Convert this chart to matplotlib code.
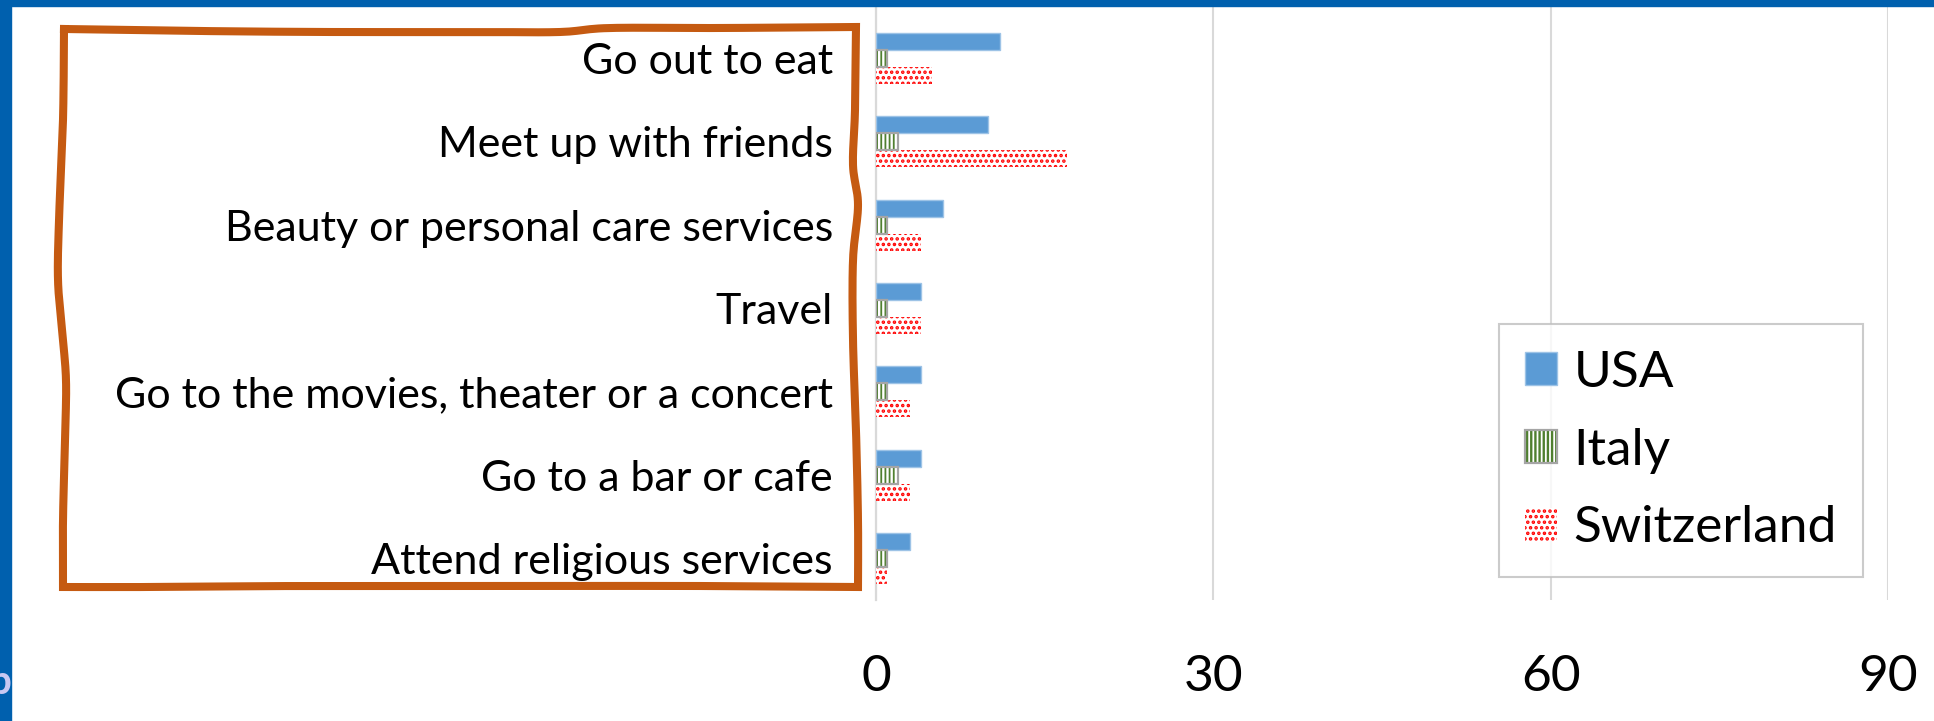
import matplotlib
matplotlib.use('Agg')
import matplotlib.pyplot as plt
import numpy as np
from matplotlib.patches import Patch, Rectangle
from matplotlib.lines import Line2D

# ---------------- data ----------------
categories = ["Go out to eat", "Meet up with friends", "Beauty or personal care services",
              "Travel", "Go to the movies, theater or a concert", "Go to a bar or cafe",
              "Attend religious services"]
usa = [11, 10, 6, 4, 4, 4, 3]
italy = [1, 2, 1, 1, 1, 2, 1]
switzerland = [5, 17, 4, 4, 3, 3, 1]
series_names = ["USA", "Italy", "Switzerland"]
x_ticks = [0, 30, 60, 90]

# ---------------- style ----------------
W, H = 1934, 721
plt.rcParams['font.family'] = ['Lato', 'DejaVu Sans']

C_USA = '#5b9bd5'
C_USA_EDGE = '#9dc3e6'
C_IT = '#4f7f2f'
C_IT_EDGE = '#a5a5a5'
C_CH = '#ff0000'
C_GRID = '#d9d9d9'
C_BLUE = '#0060ae'
C_ORANGE = '#c55a11'
IT_HATCH, IT_HLW = '||||', 1.3
CH_HATCH, CH_HLW = '...', 1.7


def set_hlw(patches, lw):
    for p in patches:
        try:
            p.set_hatch_linewidth(lw)
        except Exception:
            pass


fig = plt.figure(figsize=(W / 100, H / 100), dpi=100)


def fx(px):
    return np.asarray(px, dtype=float) / W


def fy(py):
    return 1 - np.asarray(py, dtype=float) / H


ax_left, ax_right, ax_top, ax_bot = 876, 1888, 6, 600
ax = fig.add_axes([fx(ax_left), fy(ax_bot), (ax_right - ax_left) / W, (ax_bot - ax_top) / H])

band = 83.3  # px per category
n = len(categories)
h = 17 / band
y = np.arange(n)

ax.barh(y - h, usa, height=h, color=C_USA, edgecolor=C_USA_EDGE, linewidth=1, zorder=3)
plt.rcParams['hatch.linewidth'] = IT_HLW
b_it = ax.barh(y, italy, height=h, color='white', edgecolor=C_IT, hatch=IT_HATCH,
               linewidth=0, zorder=3)
set_hlw(b_it, IT_HLW)
ax.barh(y, italy, height=h, fill=False, edgecolor=C_IT_EDGE, linewidth=1.6, zorder=4)
plt.rcParams['hatch.linewidth'] = CH_HLW
b_ch = ax.barh(y + h, switzerland, height=h, color='white', edgecolor=C_CH, hatch=CH_HATCH,
               linewidth=0, zorder=3)
set_hlw(b_ch, CH_HLW)

ax.set_xlim(0, 90)
ax.set_ylim(n - 0.5, n - 0.5 - (ax_bot - ax_top) / band)
ax.set_xticks(x_ticks)
ax.set_xticklabels([str(t) for t in x_ticks], fontsize=37, color='black')
ax.set_yticks(y)
ax.set_yticklabels(categories, fontsize=31, color='black')
ax.tick_params(axis='both', length=0)
ax.tick_params(axis='x', pad=39)
ax.tick_params(axis='y', pad=31)
ax.xaxis.grid(True, color=C_GRID, linewidth=1.5, zorder=0)
ax.set_axisbelow(True)
for s in ['top', 'right', 'bottom']:
    ax.spines[s].set_visible(False)
ax.spines['left'].set_color(C_GRID)
ax.spines['left'].set_linewidth(1.6)

# legend
h_usa = Patch(facecolor=C_USA, edgecolor=C_USA_EDGE, linewidth=1)
plt.rcParams['hatch.linewidth'] = IT_HLW
h_it_fill = Patch(facecolor='white', edgecolor=C_IT, hatch=IT_HATCH, linewidth=0)
set_hlw([h_it_fill], IT_HLW)
h_it = (h_it_fill, Patch(fill=False, edgecolor=C_IT_EDGE, linewidth=1.6))
plt.rcParams['hatch.linewidth'] = CH_HLW
h_ch = Patch(facecolor='white', edgecolor=C_CH, hatch=CH_HATCH, linewidth=0)
set_hlw([h_ch], CH_HLW)
leg_fs = 37
leg = fig.legend([h_usa, h_it, h_ch], series_names, loc='upper left',
                 bbox_to_anchor=(fx(1499), fy(324)), bbox_transform=fig.transFigure,
                 fontsize=leg_fs, frameon=True, fancybox=False, borderaxespad=0,
                 borderpad=0.5, handlelength=0.62, handleheight=0.62,
                 handletextpad=0.33, labelspacing=0.62)
leg.get_frame().set_edgecolor('#bfbfbf')
leg.get_frame().set_linewidth(1.5)

# blue slide frame
fig.add_artist(Rectangle((0, fy(6)), 1, 6 / H, transform=fig.transFigure,
                         color=C_BLUE, zorder=10))
fig.add_artist(Rectangle((0, 0), fx(11), 1, transform=fig.transFigure,
                         color=C_BLUE, zorder=10))
fig.text(fx(11), fy(683), 'b', ha='right', va='center', fontsize=29,
         fontweight='bold', color='#c8c8f2', zorder=11)


# hand-drawn orange box (decoration), smoothed with Catmull-Rom
def catmull(points, samples=12):
    p = np.asarray(points, dtype=float)
    p = np.vstack([p[0], p, p[-1]])
    out = []
    for i in range(1, len(p) - 2):
        p0, p1, p2, p3 = p[i - 1], p[i], p[i + 1], p[i + 2]
        t = np.linspace(0, 1, samples, endpoint=False)[:, None]
        out.append(0.5 * ((2 * p1) + (-p0 + p2) * t + (2 * p0 - 5 * p1 + 4 * p2 - p3) * t ** 2
                          + (-p0 + 3 * p1 - 3 * p2 + p3) * t ** 3))
    out.append(p[-2][None, :])
    return np.vstack(out)


top_pts = [(64, 29), (200, 31), (330, 32), (480, 32), (560, 32), (610, 28),
           (720, 28), (856, 27)]
right_pts = [(856, 27), (855, 110), (853, 165), (858, 205), (853, 260), (853, 340),
             (856, 430), (858, 520), (858, 587)]
bottom_pts = [(858, 587), (700, 586), (500, 586), (300, 586), (150, 587), (63, 587)]
left_pts = [(63, 587), (63, 520), (65, 440), (66, 380), (62, 330), (58, 280),
            (59, 220), (63, 120), (64, 29)]
segs = [catmull(s) for s in (top_pts, right_pts, bottom_pts, left_pts)]
pts = np.vstack(segs)
fig.add_artist(Line2D(fx(pts[:, 0]), fy(pts[:, 1]), transform=fig.transFigure,
                      color=C_ORANGE, linewidth=5.8, solid_joinstyle='miter',
                      solid_capstyle='projecting', zorder=9))

fig.savefig('out.png', dpi=100)
